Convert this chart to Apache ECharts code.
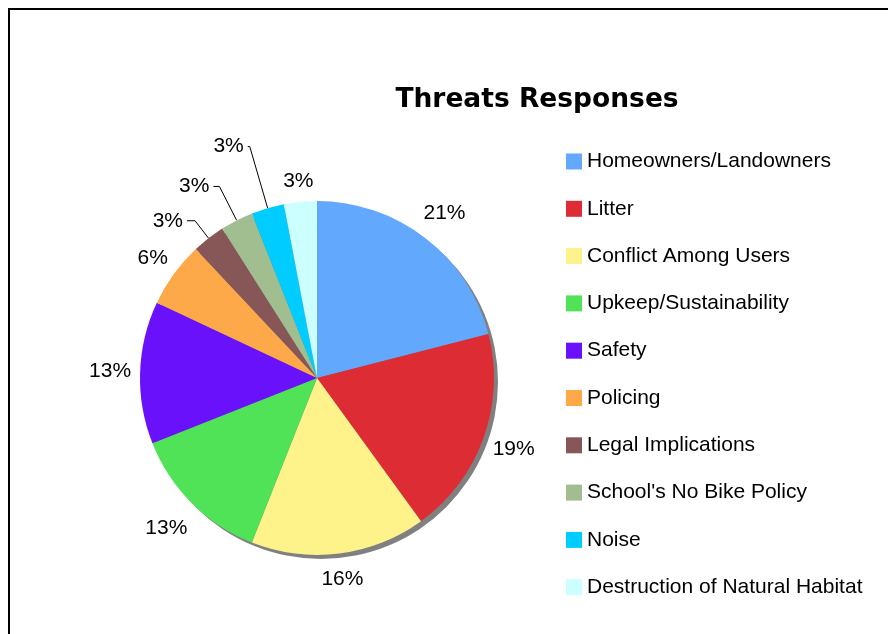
<!DOCTYPE html>
<html>
<head>
<meta charset="utf-8">
<script src="https://cdn.jsdelivr.net/npm/echarts@6/dist/echarts.min.js"></script>
<style>
  html, body { margin: 0; padding: 0; background: #fff; overflow: hidden; }
  #frame { position: absolute; left: 8px; top: 8px; width: 1000px; height: 1000px; border: 2px solid #000; box-sizing: border-box; }
  #chart { position: absolute; left: 0; top: 0; width: 888px; height: 634px; }
</style>
</head>
<body>
<div id="frame"></div>
<div id="chart"></div>
<script>
const categories = [
  'Homeowners/Landowners', 'Litter', 'Conflict Among Users', 'Upkeep/Sustainability',
  'Safety', 'Policing', 'Legal Implications', "School's No Bike Policy", 'Noise',
  'Destruction of Natural Habitat'
];
const values = [21, 19, 16, 13, 13, 6, 3, 3, 3, 3];
const colors = ['#62a8fd', '#dd2c33', '#fef38a', '#50e257', '#6a11fc', '#fda94a', '#875656', '#a0be90', '#00ccff', '#ccffff'];

// label styling (not data)
const labelLen = [31, 32, 26, 36, 30, 26, 22, 38, 64, 21];
const labelLen2 = [0, 0, 0, 0, 0, 0, 8, 6, 2, 0];
const withLine = [false, false, false, false, false, false, true, true, true, false];

const chart = echarts.init(document.getElementById('chart'), null, { renderer: 'canvas' });

const pieData = categories.map((name, i) => ({
  name: name,
  value: values[i],
  itemStyle: { color: colors[i] },
  label: { distanceToLabelLine: withLine[i] ? 4 : 0 },
  labelLine: { show: withLine[i], length: labelLen[i], length2: labelLen2[i] }
}));

chart.setOption({
  animation: false,
  backgroundColor: 'transparent',
  title: {
    text: 'Threats Responses',
    left: 537,
    textAlign: 'center',
    top: 87,
    padding: 0,
    textStyle: { fontFamily: 'DejaVu Sans', fontWeight: 'bold', fontSize: 26.5, color: '#000' }
  },
  legend: {
    orient: 'vertical',
    left: 566,
    top: 151,
    padding: 0,
    itemWidth: 16,
    itemHeight: 16,
    itemGap: 26.3,
    icon: 'rect',
    data: categories,
    selectedMode: false,
    textStyle: { fontFamily: 'Liberation Sans', fontSize: 21, lineHeight: 19, color: '#000', padding: [0, 0, 0, 0] },
    itemStyle: { borderWidth: 0 }
  },
  series: [
    {
      type: 'pie',
      silent: true,
      center: [321, 382],
      radius: 177,
      startAngle: 90,
      label: { show: false },
      labelLine: { show: false },
      itemStyle: { color: '#808080' },
      data: [{ name: 'shadow', value: 1 }]
    },
    {
      type: 'pie',
      center: [317, 378],
      radius: 177,
      startAngle: 90,
      clockwise: true,
      avoidLabelOverlap: false,
      label: {
        show: true,
        position: 'outside',
        formatter: '{d}%',
        fontFamily: 'Liberation Sans',
        fontSize: 21,
        color: '#000'
      },
      labelLine: { lineStyle: { color: '#000', width: 1 } },
      labelLayout: function (params) {
        if (!withLine[params.dataIndex]) {
          return { align: 'center', verticalAlign: 'middle' };
        }
        return {};
      },
      itemStyle: { borderWidth: 0 },
      data: pieData
    }
  ]
});
</script>
</body>
</html>
